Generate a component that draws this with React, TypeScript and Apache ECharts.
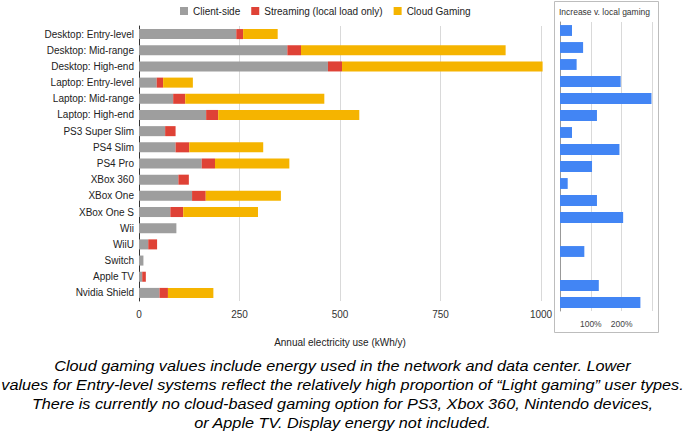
import React, { useEffect, useRef } from "react";
import * as echarts from "echarts";

const categories = [
  "Desktop: Entry-level",
  "Desktop: Mid-range",
  "Desktop: High-end",
  "Laptop: Entry-level",
  "Laptop: Mid-range",
  "Laptop: High-end",
  "PS3 Super Slim",
  "PS4 Slim",
  "PS4 Pro",
  "XBox 360",
  "XBox One",
  "XBox One S",
  "Wii",
  "WiiU",
  "Switch",
  "Apple TV",
  "Nvidia Shield",
];

const clientSide = [242, 369, 470, 44, 85, 167, 65, 91, 156, 98, 132, 78, 93, 23, 11, 8, 51];
const streaming = [17, 34, 35, 16, 30, 30, 26, 34, 33, 26, 34, 32, 0, 22, 0, 9, 21];
const cloudGaming = [86, 509, 499, 74, 346, 351, 0, 184, 185, 0, 187, 186, 0, 0, 0, 0, 113];

const increasePct = [39, 75, 54, 197, 297, 120, 39, 193, 104, 25, 120, 205, null, 79, null, 126, 261];

const xTicks = [0, 250, 500, 750, 1000];
const pctTicks = [100, 200];

const captionLines = [
  "Cloud gaming values include energy used in the network and data center. Lower",
  "values for Entry-level systems reflect the relatively high proportion of \u201cLight gaming\u201d user types.",
  "There is currently no cloud-based gaming option for PS3, Xbox 360, Nintendo devices,",
  "or Apple TV. Display energy not included.",
];

const FONT = "'Liberation Sans', Arial, sans-serif";

export default function App() {
  const ref = useRef<HTMLDivElement>(null);

  useEffect(() => {
    if (!ref.current) return;
    const chart = echarts.init(ref.current, null, { renderer: "svg" });
    const zeroToNull = (arr: number[]) => arr.map((v) => (v === 0 ? null : v));
    const capFs = 14.5;
    const option: any = {
      animation: false,
      textStyle: { fontFamily: FONT },
      legend: {
        data: ["Client-side", "Streaming (local load only)", "Cloud Gaming"],
        left: 180,
        top: 6,
        padding: 0,
        icon: "rect",
        itemWidth: 8,
        itemHeight: 8,
        itemGap: 11,
        textStyle: { fontSize: 10, color: "#222", fontFamily: FONT, padding: [0, 0, 0, 0] },
      },
      grid: [
        { left: 139, top: 26, width: 402, height: 275 },
        { left: 560, top: 22, width: 92.4, height: 289 },
      ],
      xAxis: [
        {
          gridIndex: 0,
          type: "value",
          min: xTicks[0],
          max: xTicks[xTicks.length - 1],
          interval: 250,
          axisLine: { show: false },
          axisTick: { show: false },
          splitLine: { lineStyle: { color: "#d9d9d9", width: 1 } },
          axisLabel: {
            fontSize: 10,
            color: "#333",
            margin: 8,
            fontFamily: FONT,
            formatter: (v: number) => String(v),
          },
          name: "Annual electricity use (kWh/y)",
          nameLocation: "middle",
          nameGap: 36,
          nameTextStyle: { fontSize: 10, color: "#222", fontFamily: FONT },
        },
        {
          gridIndex: 1,
          type: "value",
          min: 0,
          max: 300,
          interval: 100,
          axisLine: { show: false },
          axisTick: { show: false },
          splitLine: { lineStyle: { color: "#d9d9d9", width: 1 } },
          axisLabel: {
            fontSize: 8.5,
            color: "#444",
            margin: 8,
            fontFamily: FONT,
            formatter: (v: number) => (pctTicks.indexOf(v) >= 0 ? v + "%" : ""),
          },
        },
      ],
      yAxis: [
        {
          gridIndex: 0,
          type: "category",
          data: categories,
          inverse: true,
          axisLine: { show: true, lineStyle: { color: "#333", width: 1 } },
          axisTick: { show: false },
          axisLabel: { fontSize: 10, color: "#222", margin: 5, fontFamily: FONT },
        },
        {
          gridIndex: 1,
          type: "category",
          data: categories,
          inverse: true,
          axisLine: { show: true, lineStyle: { color: "#999", width: 1 } },
          axisTick: { show: false },
          axisLabel: { show: false },
        },
      ],
      series: [
        {
          name: "Client-side",
          type: "bar",
          stack: "energy",
          xAxisIndex: 0,
          yAxisIndex: 0,
          data: zeroToNull(clientSide),
          barCategoryGap: "38%",
          clip: false,
          itemStyle: { color: "#9e9e9e" },
        },
        {
          name: "Streaming (local load only)",
          type: "bar",
          stack: "energy",
          xAxisIndex: 0,
          yAxisIndex: 0,
          data: zeroToNull(streaming),
          clip: false,
          itemStyle: { color: "#df4236" },
        },
        {
          name: "Cloud Gaming",
          type: "bar",
          stack: "energy",
          xAxisIndex: 0,
          yAxisIndex: 0,
          data: zeroToNull(cloudGaming),
          clip: false,
          itemStyle: { color: "#f5b400" },
        },
        {
          name: "Increase v. local gaming",
          type: "bar",
          xAxisIndex: 1,
          yAxisIndex: 1,
          data: increasePct,
          barCategoryGap: "36%",
          itemStyle: { color: "#4285f4" },
        },
      ],
      graphic: [
        {
          type: "rect",
          shape: { x: 554.5, y: 1.5, width: 104, height: 331 },
          style: { fill: "none", stroke: "#bdbdbd", lineWidth: 1 },
          silent: true,
        },
        {
          type: "text",
          x: 604.5,
          y: 12,
          style: {
            text: "Increase v. local gaming",
            fontSize: 8.5,
            fill: "#333",
            fontFamily: FONT,
            textAlign: "center",
            textVerticalAlign: "middle",
          },
        },
        ...captionLines.map((line, i) => ({
          type: "text",
          x: 342.5,
          y: 371 + i * 19.1 - capFs * 0.35,
          scaleX: 1.12,
          style: {
            text: line,
            fontSize: capFs,
            fontStyle: "italic",
            fill: "#000",
            fontFamily: FONT,
            textAlign: "center",
            textVerticalAlign: "middle",
          },
        })),
      ],
    };
    chart.setOption(option);
    return () => chart.dispose();
  }, []);

  return (
    <div
      ref={ref}
      style={{ position: "fixed", left: 0, top: 0, width: 685, height: 434, background: "#fff" }}
    />
  );
}
